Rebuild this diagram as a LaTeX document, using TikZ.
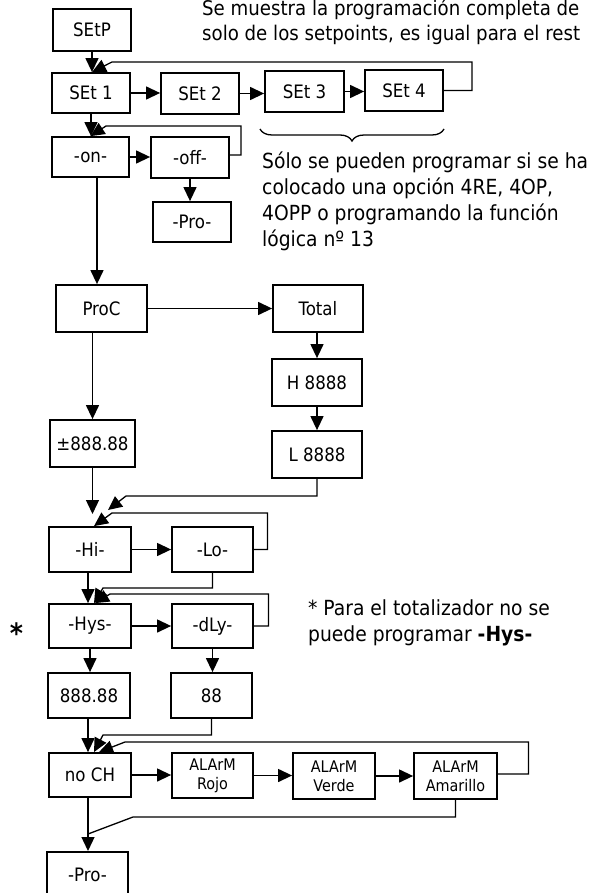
\documentclass[tikz,border=0pt]{standalone}
\usepackage{fontspec}
\setmainfont{DejaVu Sans Condensed}
\usetikzlibrary{arrows.meta,decorations.pathreplacing}
\begin{document}
\begin{tikzpicture}[x=1pt,y=-1pt,
  box/.style={draw,line width=1.8pt,inner sep=0pt,font=\fontsize{18.5}{20}\selectfont},
  conn/.style={line width=1.3pt},
  arr/.style={conn,-{Triangle[length=14pt,width=13pt]}},
  note/.style={anchor=base west,inner sep=0pt,font=\fontsize{20.8}{25}\selectfont},
  alarm/.style={box,align=center,font=\fontsize{16}{19}\selectfont}]
\fill[white] (0,0) rectangle (591,893);
\useasboundingbox (0,0) rectangle (591,893);

% boxes
\node[box,minimum width=78pt,minimum height=42pt] (SEtP) at (92,30) {SEtP};
\node[box,minimum width=78pt,minimum height=40pt] (SEt1) at (91,93) {SEt 1};
\node[box,minimum width=78pt,minimum height=41pt] (SEt2) at (200,93.5) {SEt 2};
\node[box,minimum width=79pt,minimum height=41pt] (SEt3) at (304.5,91.5) {SEt 3};
\node[box,minimum width=78pt,minimum height=41pt] (SEt4) at (404,90.5) {SEt 4};
\node[box,minimum width=77pt,minimum height=40pt] (on) at (90.5,157) {-on-};
\node[box,minimum width=78pt,minimum height=41pt] (off) at (190,157.5) {-off-};
\node[box,minimum width=78pt,minimum height=40pt] (Pro1) at (192,222) {-Pro-};
\node[box,minimum width=91pt,minimum height=47pt] (ProC) at (101.5,308.5) {ProC};
\node[box,minimum width=90pt,minimum height=47pt] (Total) at (318,308.5) {Total};
\node[box,minimum width=90pt,minimum height=47pt] (H) at (317,382.5) {H 8888};
\node[box,minimum width=90pt,minimum height=47pt] (L) at (317,454.5) {L 8888};
\node[box,minimum width=85pt,minimum height=47pt] (pm) at (92.5,443.5) {±888.88};
\node[box,minimum width=82pt,minimum height=45pt] (Hi) at (90,549.5) {-Hi-};
\node[box,minimum width=81pt,minimum height=45pt] (Lo) at (212.5,549.5) {-Lo-};
\node[box,minimum width=82pt,minimum height=44pt] (Hys) at (90,626) {-Hys-};
\node[box,minimum width=81pt,minimum height=44pt] (dLy) at (212.5,626) {-dLy-};
\node[box,minimum width=82pt,minimum height=45pt] (n888) at (89,695.5) {888.88};
\node[box,minimum width=81pt,minimum height=45pt] (n88) at (211.5,695.5) {88};
\node[box,minimum width=82pt,minimum height=44pt] (noCH) at (90,775) {no CH};
\node[alarm,minimum width=81pt,minimum height=45pt] (Rojo) at (212.5,775.5) {ALArM\\Rojo};
\node[alarm,minimum width=82pt,minimum height=46pt] (Verde) at (334,776) {ALArM\\Verde};
\node[alarm,minimum width=83pt,minimum height=46pt] (Amar) at (455.5,776) {ALArM\\Amarillo};
\node[box,minimum width=81pt,minimum height=45pt,anchor=north] (Pro2) at (87.5,851) {-Pro-};

% texts
\node[note,font=\fontsize{20.2}{25}\selectfont] (t1) at (202,15.5) {Se muestra la programación completa de};
\node[note,font=\fontsize{20.2}{25}\selectfont] (t2) at (202,40.5) {solo de los setpoints, es igual para el rest};
\node[note] (s1) at (262,169) {Sólo se pueden programar si se ha};
\node[note] (s2) at (262,195) {colocado una opción 4RE, 4OP,};
\node[note] (s3) at (262,221) {4OPP o programando la función};
\node[note] (s4) at (262,246) {lógica nº 13};
\node[note] (p1) at (308,615) {* Para el totalizador no se};
\node[note] (p2) at (308,641) {puede programar \textbf{-Hys-}};
\node[anchor=base,inner sep=0pt,font=\fontsize{28}{30}\selectfont\bfseries] (star) at (16.5,643) {*};

% brace
\draw[conn,decorate,decoration={brace,mirror,amplitude=12pt}] (260,129) -- (444,129);

% coordinates
\coordinate (c1) at (112,62);
\coordinate (c2) at (106,126);
\coordinate (onS) at ([xshift=6.5pt]on.south);
\coordinate (hiA) at (pm.south |- 0,514);
\coordinate (hiB) at (108,510);
\coordinate (c3) at (112,513);
\coordinate (c4) at (103,588);
\coordinate (c5) at (110,594);
\coordinate (c6) at (103,735);
\coordinate (c7) at (125,742);
\coordinate (c8) at (133,817);
\coordinate (m) at (noCH.south |- 0,834);

% connectors
\draw[arr] (SEtP.south) -- (SEtP.south |- SEt1.north);
\draw[arr] (SEt1.east) -- (SEt1.east -| SEt2.west);
\draw[arr] (SEt2.east) -- (SEt2.east -| SEt3.west);
\draw[arr] (SEt3.east) -- (SEt3.east -| SEt4.west);
\draw[arr] (SEt4.east) -- ++(28,0) |- (c1) -- ([xshift=1pt]SEt1.north);
\draw[arr] (SEt1.south) -- (SEt1.south |- on.north);
\draw[arr] (on.east) -- (on.east -| off.west);
\draw[arr] ([yshift=2.5pt]off.east) -- ++(11,0) |- (c2) -- (on.north);
\draw[arr] (off.south) -- (off.south |- Pro1.north);
\draw[arr] (onS) -- (onS |- ProC.north);
\draw[arr] (ProC.east) -- (ProC.east -| Total.west);
\draw[arr] (pm.north |- ProC.south) -- (pm.north);
\draw[arr] (H.north |- Total.south) -- (H.north);
\draw[arr] (H.south) -- (L.north);
\draw[arr] (pm.south) -- (hiA);
\draw[arr] (L.south) |- (126,496) -- (hiB);
\draw[arr] (Lo.east) -- ++(13.5,0) |- (c3) -- ([xshift=4pt]Hi.north);
\draw[arr] (Hi.east) -- (Hi.east -| Lo.west);
\draw[arr] ([xshift=-2pt]Hi.south) -- ([xshift=-2pt]Hi.south |- Hys.north);
\draw[arr] (Lo.south) |- (c4) -- ([xshift=4pt]Hys.north);
\draw[arr] (dLy.east) -- ++(14.5,0) |- (c5) -- ([xshift=5pt]Hys.north);
\draw[arr] (Hys.east) -- (Hys.east -| dLy.west);
\draw[arr] (Hys.south) -- (Hys.south |- n888.north);
\draw[arr] (dLy.south) -- (dLy.south |- n88.north);
\draw[arr] ([xshift=-1pt]n888.south) -- ([xshift=-1pt]n888.south |- noCH.north);
\draw[arr] (n88.south) |- (c6) -- ([xshift=4pt]noCH.north);
\draw[arr] ([yshift=2pt]Amar.east) -- ++(30.5,0) |- (c7) -- ([xshift=9pt]noCH.north);
\draw[arr] (noCH.east) -- (noCH.east -| Rojo.west);
\draw[arr] (Rojo.east) -- (Rojo.east -| Verde.west);
\draw[arr] (Verde.east) -- (Verde.east -| Amar.west);
\draw[arr] ([xshift=-2pt]noCH.south) -- ([xshift=-2pt]noCH.south |- Pro2.north);
\draw[conn] (Amar.south) |- (c8) -- ([xshift=-2pt]m);
\end{tikzpicture}
\end{document}
